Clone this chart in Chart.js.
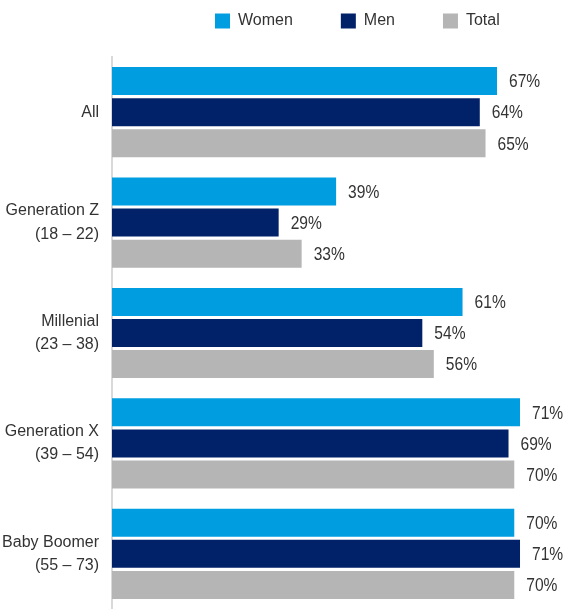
<!DOCTYPE html>
<html>
<head>
<meta charset="utf-8">
<script src="https://cdn.jsdelivr.net/npm/chart.js@4"></script>
<style>
  html, body { margin: 0; padding: 0; background: #fff; }
  #wrap { width: 569px; height: 609px; }
</style>
</head>
<body>
<div id="wrap"><canvas id="grafico" width="569" height="609"></canvas></div>
<script>
// categorias e valores (%)
const categorias = [
  'All',
  ['Generation Z', '(18 – 22)'],
  ['Millenial', '(23 – 38)'],
  ['Generation X', '(39 – 54)'],
  ['Baby Boomer', '(55 – 73)']
];
const mulheres = [67, 39, 61, 71, 70];
const homens = [64, 29, 54, 69, 71];
const total = [65, 33, 56, 70, 70];

const fonte = "'Liberation Sans', Arial, sans-serif";
const corTexto = '#333333';

// rótulos de valor na ponta das barras (fonte estreitada)
const rotulos = {
  id: 'rotulos',
  afterDatasetsDraw(chart) {
    const ctx = chart.ctx;
    chart.data.datasets.forEach((ds, i) => {
      chart.getDatasetMeta(i).data.forEach((el, j) => {
        ctx.save();
        ctx.translate(el.x + 12, el.y + 1);
        ctx.scale(0.82, 1);
        ctx.font = '19px ' + fonte;
        ctx.fillStyle = corTexto;
        ctx.textAlign = 'left';
        ctx.textBaseline = 'middle';
        ctx.fillText(ds.data[j] + '%', 0, 0);
        ctx.restore();
      });
    });
  }
};

// reposiciona a legenda
const PAD_LEG = 48;
const moveLegenda = {
  id: 'moveLegenda',
  afterLayout(chart) {
    const l = chart.legend;
    l.left = 215 - PAD_LEG;
    l.right = 569;
    l.top = 13 - PAD_LEG;
  }
};

new Chart(document.getElementById('grafico').getContext('2d'), {
  type: 'bar',
  data: {
    labels: categorias,
    datasets: [
      { label: 'Women', data: mulheres, backgroundColor: '#009ee0' },
      { label: 'Men', data: homens, backgroundColor: '#012169' },
      { label: 'Total', data: total, backgroundColor: '#b5b5b5' }
    ]
  },
  options: {
    indexAxis: 'y',
    responsive: false,
    animation: false,
    layout: { padding: { left: 0, right: 26, top: 0, bottom: 0 } },
    categoryPercentage: 0.845,
    barPercentage: 0.9,
    plugins: {
      legend: {
        position: 'top',
        align: 'start',
        maxHeight: 57,
        labels: {
          boxWidth: 15,
          boxHeight: 15,
          padding: PAD_LEG,
          color: corTexto,
          font: { family: fonte, size: 16 }
        }
      },
      tooltip: { enabled: false }
    },
    scales: {
      x: { display: false, min: 0, max: 75 },
      y: {
        afterFit(s) {
          s.width = 112;
          s.paddingTop = 0;
          s.paddingBottom = 0;
        },
        grid: { display: false, drawTicks: false },
        border: { display: true, color: '#d9d9d9', width: 2 },
        ticks: {
          padding: 13,
          color: corTexto,
          font: { family: fonte, size: 16, lineHeight: 1.45 }
        }
      }
    }
  },
  plugins: [rotulos, moveLegenda]
});
</script>
</body>
</html>
